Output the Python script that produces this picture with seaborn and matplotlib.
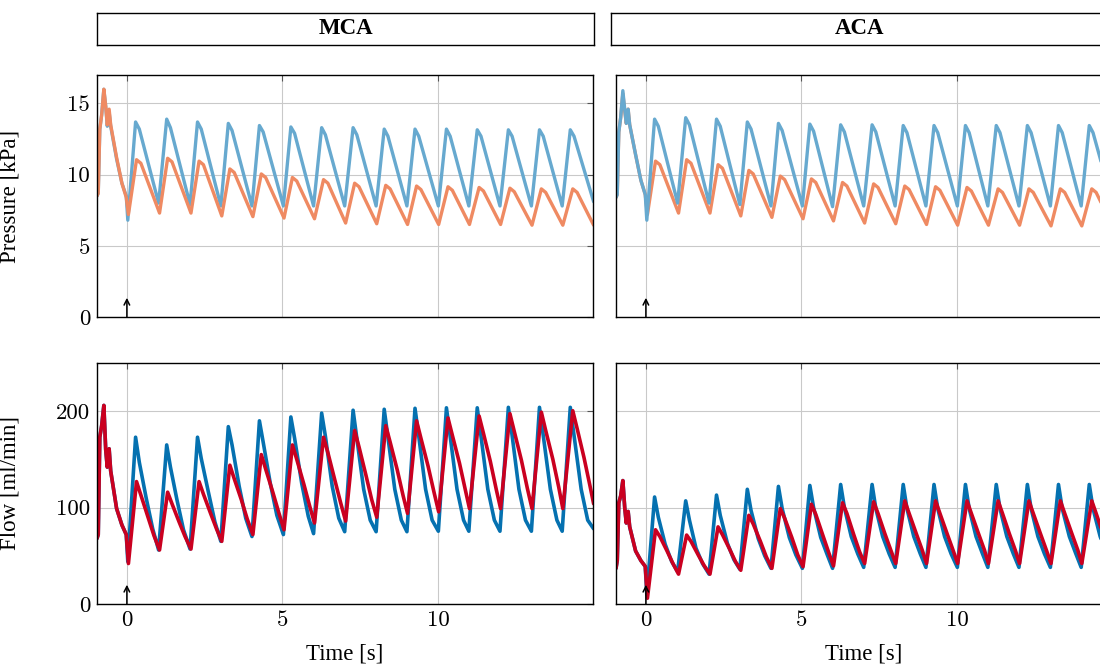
import numpy as np
import pandas as pd
import matplotlib
matplotlib.use("Agg")
import matplotlib.pyplot as plt
import seaborn as sns

# ---------------- data ----------------
PANELS = ["MCA", "ACA"]

# knot times of the initial transient (before t = 0)
PRE_T = [-0.96, -0.92, -0.87, -0.81, -0.74, -0.68, -0.63, -0.57, -0.52, -0.33, -0.16, -0.02]

# knot times per beat, "blue" style curves (sharp peak + shoulder)
TB_FOOT = [0.03, 1.02, 2.03, 3.02, 4.02, 5.03, 6.00, 7.00, 8.01, 9.00, 10.01, 10.99, 11.99, 13.00, 13.99]
TB_PEAK = [0.28, 1.28, 2.27, 3.26, 4.26, 5.27, 6.26, 7.27, 8.27, 9.26, 10.27, 11.26, 12.26, 13.26, 14.25]
TB_SHLD = [0.40, 1.40, 2.39, 3.38, 4.38, 5.39, 6.38, 7.39, 8.39, 9.38, 10.39, 11.38, 12.38, 13.38, 14.37]
TB_MID = [0.62, 1.61, 2.62, 3.61, 4.61, 5.62, 6.60, 7.61, 8.61, 9.60, 10.61, 11.60, 12.60, 13.61, 14.60]
TB_LATE = [0.83, 1.82, 2.83, 3.82, 4.82, 5.83, 6.81, 7.82, 8.82, 9.81, 10.82, 11.81, 12.81, 13.82, 14.81]

# knot times per beat, "red / orange" style curves (rounded peak)
TR_FOOT = [0.05, 1.05, 2.06, 3.05, 4.05, 5.05, 6.03, 7.03, 8.03, 9.02, 10.02, 11.01, 12.01, 13.02, 14.01]
TR_PEAK = [0.31, 1.31, 2.32, 3.31, 4.32, 5.32, 6.32, 7.32, 8.32, 9.31, 10.32, 11.32, 12.31, 13.32, 14.33]
TR_POST = [0.45, 1.45, 2.46, 3.45, 4.46, 5.46, 6.46, 7.46, 8.46, 9.45, 10.46, 11.46, 12.45, 13.46, 14.47]
TR_MID = [0.68, 1.68, 2.69, 3.68, 4.69, 5.69, 6.68, 7.68, 8.69, 9.68, 10.69, 11.68, 12.68, 13.69, 14.69]
TR_LATE = [0.87, 1.87, 2.88, 3.87, 4.88, 5.88, 6.87, 7.87, 8.88, 9.87, 10.88, 11.87, 12.87, 13.88, 14.88]

# ---- MCA pressure [kPa]
MCA_P1_PRE = [8.5, 8.7, 13.2, 14.2, 16.0, 14.8, 13.4, 14.4, 13.4, 11.1, 9.4, 8.5]
MCA_P1_FOOT = [6.8, 8.0, 7.9, 7.8, 7.8, 7.8, 7.8, 7.8, 7.8, 7.8, 7.8, 7.8, 7.8, 7.8, 7.8]
MCA_P1_PEAK = [13.7, 13.9, 13.7, 13.6, 13.45, 13.35, 13.3, 13.3, 13.2, 13.2, 13.2, 13.15, 13.15, 13.15, 13.15]
MCA_P1_SHLD = [13.2, 13.3, 13.2, 13.1, 13.0, 12.9, 12.8, 12.8, 12.7, 12.7, 12.7, 12.7, 12.7, 12.7, 12.7]
MCA_P1_END = 8.1

MCA_P2_PRE = [8.5, 8.7, 13.2, 14.2, 16.0, 14.8, 13.5, 14.6, 13.5, 11.2, 9.4, 8.4]
MCA_P2_FOOT = [7.2, 7.3, 7.3, 7.1, 7.05, 6.95, 6.9, 6.6, 6.55, 6.5, 6.5, 6.5, 6.5, 6.45, 6.45]
MCA_P2_PEAK = [11.05, 11.15, 10.95, 10.4, 10.05, 9.8, 9.65, 9.4, 9.25, 9.2, 9.15, 9.1, 9.05, 9.0, 9.0]
MCA_P2_POST = [10.8, 10.9, 10.7, 10.15, 9.8, 9.55, 9.4, 9.15, 9.0, 8.95, 8.9, 8.85, 8.8, 8.75, 8.75]
MCA_P2_END = 6.45

# ---- ACA pressure [kPa]
ACA_P1_PRE = [8.4, 8.6, 13.0, 14.0, 15.9, 14.6, 13.6, 14.6, 13.5, 11.4, 9.6, 8.6]
ACA_P1_FOOT = [6.8, 8.0, 8.0, 7.9, 7.8, 7.8, 7.75, 7.8, 7.8, 7.8, 7.8, 7.8, 7.8, 7.8, 7.8]
ACA_P1_PEAK = [13.9, 14.0, 13.9, 13.7, 13.6, 13.55, 13.5, 13.5, 13.45, 13.45, 13.45, 13.45, 13.45, 13.45, 13.45]
ACA_P1_SHLD = [13.4, 13.5, 13.4, 13.2, 13.1, 13.05, 13.0, 13.0, 12.95, 12.95, 12.95, 12.95, 12.95, 12.95, 12.95]
ACA_P1_END = 8.0

ACA_P2_PRE = [8.4, 8.6, 13.0, 14.0, 15.7, 14.5, 13.6, 14.6, 13.5, 11.4, 9.6, 8.6]
ACA_P2_FOOT = [7.2, 7.3, 7.3, 7.1, 7.0, 6.9, 6.75, 6.6, 6.55, 6.5, 6.45, 6.45, 6.45, 6.4, 6.4]
ACA_P2_PEAK = [10.95, 11.05, 10.7, 10.3, 9.9, 9.7, 9.45, 9.35, 9.2, 9.15, 9.1, 9.0, 9.0, 9.0, 9.0]
ACA_P2_POST = [10.7, 10.8, 10.45, 10.05, 9.65, 9.45, 9.2, 9.1, 8.95, 8.9, 8.85, 8.75, 8.75, 8.75, 8.75]
ACA_P2_END = 6.4

# ---- MCA flow [ml/min]
MCA_Q1_PRE = [68, 72, 173, 185, 206, 160, 142, 161, 138, 99, 82, 72]
MCA_Q1_FOOT = [44, 56, 57, 65, 70, 72, 73, 75, 75, 75, 75.5, 75.5, 75.5, 75.5, 75.5]
MCA_Q1_PEAK = [173, 165, 173, 184, 190, 194, 198, 201, 202, 203, 203.5, 203.5, 204, 204, 204]
MCA_Q1_SHLD = [147, 142, 151, 165, 168, 172, 174, 172, 173, 174, 174, 174, 175, 175, 175]
MCA_Q1_MID = [110, 108, 116, 122, 125, 125, 122, 119, 119, 119, 119, 119, 119, 119, 119]
MCA_Q1_LATE = [78, 77, 85, 89, 92, 91, 89, 87, 87, 87, 87, 87, 87, 87, 87]
MCA_Q1_END = 78

MCA_Q2_PRE = [68, 72, 173, 185, 206, 160, 142, 161, 138, 99, 82, 72]
MCA_Q2_FOOT = [42, 56, 57, 65, 72, 77, 84, 86, 90, 94, 95.6, 99, 99, 99, 99]
MCA_Q2_PEAK = [127, 116, 127, 144, 155, 165, 173, 180, 185, 190, 193, 195, 197.5, 199, 200.5]
MCA_Q2_POST = [113, 104, 114, 130, 140, 150, 157, 163, 168, 172, 175, 177, 179, 180, 182]
MCA_Q2_MID = [90, 85, 94, 108, 116, 124, 129, 134, 139, 143, 146, 148, 149, 150, 152]
MCA_Q2_LATE = [71, 70, 78, 88, 95, 101, 105, 108, 112, 116, 118, 119, 120, 121, 123]
MCA_Q2_END = 104

# ---- ACA flow [ml/min]
ACA_Q1_PRE = [37, 45, 105, 112, 128, 100, 84, 96, 80, 55, 45, 39]
ACA_Q1_FOOT = [10, 33.5, 31, 36, 37, 37, 37, 38, 38, 38, 38, 38, 38, 38, 38]
ACA_Q1_PEAK = [111, 107, 113, 119, 122, 123, 124, 124, 124, 124, 124, 124, 124, 124, 124]
ACA_Q1_SHLD = [90, 87, 92, 97, 99, 100, 100, 99, 99, 99, 99, 99, 99, 99, 99]
ACA_Q1_MID = [62, 58, 63, 68, 69, 69, 70, 70, 70, 70, 70, 70, 70, 70, 70]
ACA_Q1_LATE = [44, 42, 46, 50, 51, 51, 52, 52, 52, 52, 52, 52, 52, 52, 52]
ACA_Q1_END = 40

ACA_Q2_PRE = [37, 45, 105, 112, 128, 100, 84, 96, 80, 55, 45, 39]
ACA_Q2_FOOT = [6, 31, 31, 35, 37, 38.7, 39.5, 42, 42, 42, 42, 42, 42, 42, 42]
ACA_Q2_PEAK = [77, 71.5, 80, 92, 99, 103.5, 105, 106, 107, 107, 107, 107, 107, 107, 107]
ACA_Q2_POST = [70, 65, 72, 83, 89, 93, 94, 94, 94, 94, 94, 94, 94, 94, 94]
ACA_Q2_MID = [55, 51, 57, 65, 69, 71, 72, 73, 73, 73, 73, 73, 73, 73, 73]
ACA_Q2_LATE = [42, 40, 44, 49, 51, 53, 54, 56, 56, 56, 56, 56, 56, 56, 56]
ACA_Q2_END = 44

END_T = 15.0

# colours
C_P1, C_P2 = "#67a9cf", "#ef8a62"
C_Q1, C_Q2 = "#0571b0", "#ca0020"


def assemble(pre_v, knots, end_v):
    ts = list(PRE_T)
    vs = list(pre_v)
    n = len(knots[0][0])
    for k in range(n):
        for tl, vl in knots:
            ts.append(tl[k])
            vs.append(vl[k])
    ts.append(END_T)
    vs.append(end_v)
    return ts, vs


series = {
    ("MCA", "P", "a"): assemble(MCA_P1_PRE, [(TB_FOOT, MCA_P1_FOOT), (TB_PEAK, MCA_P1_PEAK), (TB_SHLD, MCA_P1_SHLD)], MCA_P1_END),
    ("MCA", "P", "b"): assemble(MCA_P2_PRE, [(TR_FOOT, MCA_P2_FOOT), (TR_PEAK, MCA_P2_PEAK), (TR_POST, MCA_P2_POST)], MCA_P2_END),
    ("ACA", "P", "a"): assemble(ACA_P1_PRE, [(TB_FOOT, ACA_P1_FOOT), (TB_PEAK, ACA_P1_PEAK), (TB_SHLD, ACA_P1_SHLD)], ACA_P1_END),
    ("ACA", "P", "b"): assemble(ACA_P2_PRE, [(TR_FOOT, ACA_P2_FOOT), (TR_PEAK, ACA_P2_PEAK), (TR_POST, ACA_P2_POST)], ACA_P2_END),
    ("MCA", "Q", "a"): assemble(MCA_Q1_PRE, [(TB_FOOT, MCA_Q1_FOOT), (TB_PEAK, MCA_Q1_PEAK), (TB_SHLD, MCA_Q1_SHLD),
                                             (TB_MID, MCA_Q1_MID), (TB_LATE, MCA_Q1_LATE)], MCA_Q1_END),
    ("MCA", "Q", "b"): assemble(MCA_Q2_PRE, [(TR_FOOT, MCA_Q2_FOOT), (TR_PEAK, MCA_Q2_PEAK), (TR_POST, MCA_Q2_POST),
                                             (TR_MID, MCA_Q2_MID), (TR_LATE, MCA_Q2_LATE)], MCA_Q2_END),
    ("ACA", "Q", "a"): assemble(ACA_Q1_PRE, [(TB_FOOT, ACA_Q1_FOOT), (TB_PEAK, ACA_Q1_PEAK), (TB_SHLD, ACA_Q1_SHLD),
                                             (TB_MID, ACA_Q1_MID), (TB_LATE, ACA_Q1_LATE)], ACA_Q1_END),
    ("ACA", "Q", "b"): assemble(ACA_Q2_PRE, [(TR_FOOT, ACA_Q2_FOOT), (TR_PEAK, ACA_Q2_PEAK), (TR_POST, ACA_Q2_POST),
                                             (TR_MID, ACA_Q2_MID), (TR_LATE, ACA_Q2_LATE)], ACA_Q2_END),
}

rows = []
for (panel, qty, s), (ts, vs) in series.items():
    for i, (t, v) in enumerate(zip(ts, vs)):
        rows.append(dict(panel=panel, qty=qty, s=s, idx=i, t=t, v=v))
df = pd.DataFrame(rows)

# ---------------- figure ----------------
sns.set_theme(style="white")
plt.rcParams["font.family"] = ["Liberation Serif", "DejaVu Serif"]
plt.rcParams["axes.unicode_minus"] = False
for key in ["text.color", "axes.labelcolor", "xtick.labelcolor", "ytick.labelcolor",
            "axes.edgecolor"]:
    plt.rcParams[key] = "black"

W, H = 1100, 664
fig = plt.figure(figsize=(W / 100, H / 100), dpi=100)


def fx(px):
    return px / W


def fy(px_top, px_bot):
    return 1 - px_bot / H, (px_bot - px_top) / H


FS = 16.5
panel_left = {"MCA": 97, "ACA": 616}
box_left = {"MCA": 97, "ACA": 611}
AX_W = 496

for panel in PANELS:
    # title box
    b0, bh = fy(13, 45)
    bax = fig.add_axes([fx(box_left[panel]), b0, fx(497), bh])
    bax.set_xticks([])
    bax.set_yticks([])
    for sp in bax.spines.values():
        sp.set_color("black")
        sp.set_linewidth(1.0)
    bax.text(0.5, 0.5, panel, ha="center", va="center", fontsize=FS, fontweight="bold",
             family="Liberation Serif", color="black", transform=bax.transAxes)

    for qty, (top, bot) in {"P": (75, 317), "Q": (363, 604)}.items():
        b, h = fy(top, bot)
        ax = fig.add_axes([fx(panel_left[panel]), b, fx(AX_W), h])
        sub = df[(df.panel == panel) & (df.qty == qty)]
        if qty == "P":
            pal = {"a": C_P1, "b": C_P2}
            order = ["a", "b"] if panel == "MCA" else ["b", "a"]
            lw = 2.4
        else:
            pal = {"a": C_Q1, "b": C_Q2}
            order = ["a", "b"]
            lw = 2.6
        for s in order:
            d = sub[sub.s == s].sort_values("idx")
            sns.lineplot(data=d, x="t", y="v", color=pal[s], ax=ax, sort=False,
                         estimator=None, linewidth=lw, legend=False, solid_joinstyle="round")
        ax.set_xlim(-0.96, 14.98)
        ax.set_xticks([0, 5, 10])
        if qty == "P":
            ax.set_ylim(0, 17)
            ax.set_yticks([0, 5, 10, 15])
            arrow_top = 1.35
        else:
            ax.set_ylim(0, 250)
            ax.set_yticks([0, 100, 200])
            arrow_top = 20
        ax.annotate("", xy=(0, arrow_top), xytext=(0, 0),
                    arrowprops=dict(arrowstyle="->", lw=1.1, color="black", mutation_scale=10,
                                    shrinkA=0, shrinkB=0))
        ax.grid(True, color="#c9c9c9", linewidth=0.8)
        ax.set_axisbelow(True)
        for sp in ax.spines.values():
            sp.set_color("black")
            sp.set_linewidth(1.0)
        ax.tick_params(direction="in", top=True, right=True, length=4.5, width=0.8,
                       color="#555555", labelsize=FS, pad=5, labelcolor="black",
                       labelfontfamily="cmr10")
        ax.set_xlabel("")
        ax.set_ylabel("")
        if qty == "P":
            ax.tick_params(labelbottom=False)
        else:
            ax.set_xlabel("Time [s]", fontsize=FS, family="Liberation Serif", color="black")
            ax.xaxis.set_label_coords(0.5, -0.165)
        if panel == "ACA":
            ax.tick_params(labelleft=False)
        else:
            ax.set_ylabel("Pressure [kPa]" if qty == "P" else "Flow [ml/min]",
                          fontsize=FS, family="Liberation Serif", color="black")
            ax.yaxis.set_label_coords(-0.155, 0.5)

fig.savefig("out.png", dpi=100)
